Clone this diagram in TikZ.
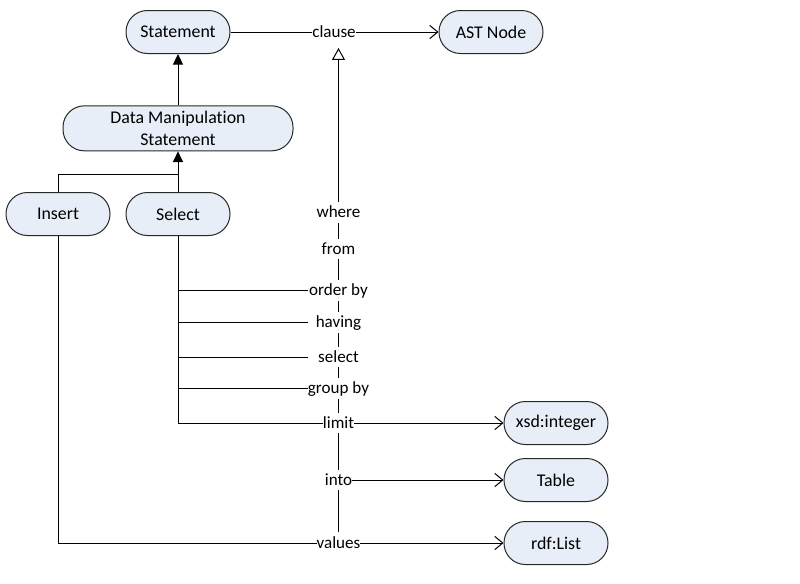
\documentclass[tikz,border=0pt]{standalone}
\usepackage{fontspec}
\setmainfont{Carlito}[Ligatures=NoCommon]
\usepackage{tikz}
\usetikzlibrary{arrows.meta,positioning,backgrounds}
\definecolor{astfill}{RGB}{232,238,247}
\definecolor{astline}{RGB}{40,40,40}
\newcommand{\umlfont}{\fontsize{13.4}{16}\selectfont}
\newcommand{\clausefont}{\fontsize{12.8}{15}\selectfont}
\tikzstyle{classnode} = [rectangle, rounded corners=16pt, minimum width=78pt, minimum height=32.25pt, inner ysep=3pt, text centered, draw=astline, fill=astfill, line width=0.75pt, font=\umlfont]
\tikzstyle{clauselabel} = [fill=white, inner xsep=0pt, inner ysep=2pt, text height=9.5pt, text depth=2pt, font=\clausefont]
\tikzstyle{branchlabel} = [clauselabel, minimum width=45pt]
\tikzstyle{link} = [line width=0.75pt]
\tikzstyle{arrow} = [link, -{Straight Barb[length=6pt,width=10pt]}]
\tikzstyle{isa} = [link, -{Triangle[length=8pt,width=7.5pt]}]
\tikzstyle{isaopen} = [link, -{Triangle[open,length=9pt,width=9.75pt]}]

\begin{document}
\begin{tikzpicture}[x=0.75pt, y=-0.75pt]
\useasboundingbox (0,0) rectangle (800,583);
% Class nodes
\node[classnode] (stmt) at (178,32) {Statement};
\node[classnode, right=156pt of stmt] (ast) {AST Node};
\node[classnode, below=38.5pt of stmt, minimum width=172.5pt, minimum height=33.75pt, align=center] (dms) {Data Manipulation\\Statement};
\node[classnode, below=30.5pt of dms] (sel) {Select};
\node[classnode, left=11.25pt of sel] (ins) {Insert};
\node[classnode] (xsd) at (556,423) {xsd:integer};
\node[classnode] (table) at (556,480) {Table};
\node[classnode] (rdf) at (556,543) {rdf:List};

% Clause labels
\node[clauselabel] (lclause) at (334,32) {clause};
\node[clauselabel] (lwhere) at (338.5,212.7) {where};
\node[clauselabel] (lfrom) at (338.5,249) {from};
\node[branchlabel] (lorder) at (338.5,290.5) {order by};
\node[branchlabel] (lhaving) at (338.5,322.5) {having};
\node[branchlabel] (lselect) at (338.5,357) {select};
\node[branchlabel] (lgroup) at (338.5,388.5) {group by};
\node[clauselabel] (llimit) at (338.5,423) {limit};
\node[clauselabel] (linto) at (338.5,480) {into};
\node[clauselabel] (lvalues) at (338.5,543) {values};

% Connectors
\begin{scope}[on background layer]
\draw[arrow] (stmt) -- (ast);
\draw[isaopen, shorten >=4pt] (lvalues) -- (lvalues |- lclause.south);
\draw[isa] (dms) -- (stmt);
\draw[isa] (sel) -- (dms);
\draw[link] (ins.north) -- ++(0,-18) -| (sel.north);
\foreach \lab in {lorder,lhaving,lselect,lgroup}
  \draw[link] (sel) |- (\lab);
\draw[arrow] (sel) |- (xsd);
\draw[arrow] (linto) -- (table);
\draw[arrow] (ins) |- (rdf);
\end{scope}
\end{tikzpicture}
\end{document}
